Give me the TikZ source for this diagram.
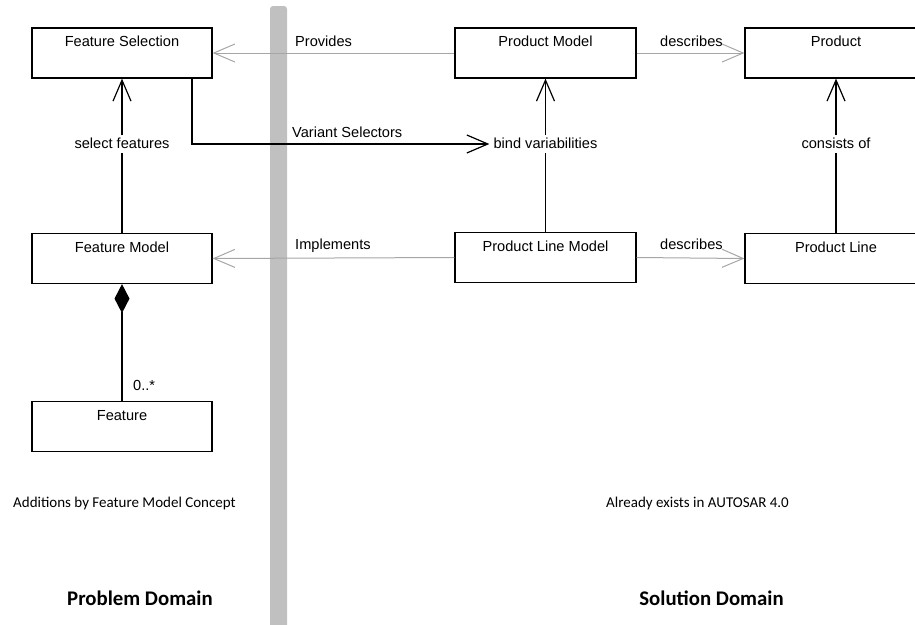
\documentclass[tikz,border=0pt]{standalone}
\usepackage{fontspec}
\setmainfont{Liberation Sans}
\newfontfamily\notefont{Carlito}
\usetikzlibrary{arrows.meta}
\definecolor{linegray}{HTML}{A6A6A6}
\definecolor{bargray}{HTML}{C0C0C0}
\begin{document}
\begin{tikzpicture}[x=1pt,y=-1pt,
  font=\fontsize{14.6}{17}\selectfont,
  cls/.style={draw, line width=1.2pt, minimum width=180pt, inner sep=0pt,
              text height=18.5pt, text depth=31.5pt},
  elab/.style={inner xsep=3pt, inner ysep=1.5pt, text height=11pt, text depth=3pt},
  open/.style={-{Straight Barb[length=21pt,width=18pt]}},
  gl/.style={draw=linegray, line width=1pt},
  bl/.style={draw=black, line width=1.2pt},
  note/.style={font=\notefont\fontsize{15}{18}\selectfont, anchor=base},
  dom/.style={font=\notefont\bfseries\fontsize{20.8}{24}\selectfont, anchor=base}]
\path[use as bounding box] (0,0) rectangle (915,624);
\fill[bargray, rounded corners=3pt] (270,6) rectangle (287,640);

% classes
\node[cls] (fs) at (122,53) {Feature Selection};
\node[cls, minimum width=181pt] (pm) at (545.5,53) {Product Model};
\node[cls, minimum width=182pt] (pr) at (836,53) {Product};
\node[cls] (fm) at (122,258.5) {Feature Model};
\node[cls, minimum width=181pt] (plm) at (545.5,257.5) {Product Line Model};
\node[cls, minimum width=182pt] (pl) at (836,258.5) {Product Line};
\node[cls] (ft) at (122,426.5) {Feature};

% edge labels
\node[elab, anchor=base west] (lprov) at (292,46) {Provides};
\node[elab, anchor=base west] (ldesc1) at (657,46) {describes};
\node[elab, anchor=base west] (lvs) at (289,137) {Variant Selectors};
\node[elab, anchor=base west] (limp) at (292,249) {Implements};
\node[elab, anchor=base west] (ldesc2) at (657,249) {describes};
\node[elab, anchor=base west] (lmult) at (130,390) {0..*};
\node[elab] (sf) at (122,144) {select features};
\node[elab, inner xsep=4pt] (bv) at (545.5,144) {bind variabilities};
\node[elab] (co) at (836,144) {consists of};

% connectors
\draw[gl, open] (pm.west) -- (fs.east);
\draw[gl, open] (pm.east) -- (pr.west);
\draw[gl, open] (plm.west) -- (fm.east);
\draw[gl, open] (plm.east) -- (pl.west);
\draw[bl] (fm.north) -- (sf.south);
\draw[bl, open] (sf.north) -- (fs.south);
\draw[bl] (plm.north) -- (bv.south);
\draw[bl, open] (bv.north) -- (pm.south);
\draw[bl] (pl.north) -- (co.south);
\draw[bl, open] (co.north) -- (pr.south);
\draw[bl, open] ([xshift=70pt]fs.south) |- (bv.west);
\draw[bl, {Diamond[length=29pt,width=15pt]}-] (fm.south) -- (ft.north);

% notes
\node[note] (n1) at (124.5,507) {Additions by Feature Model Concept};
\node[note] (n2) at (697.5,507) {Already exists in AUTOSAR 4.0};
\node[dom] (n3) at (140,605) {Problem Domain};
\node[dom] (n4) at (711.5,605) {Solution Domain};
\end{tikzpicture}
\end{document}
